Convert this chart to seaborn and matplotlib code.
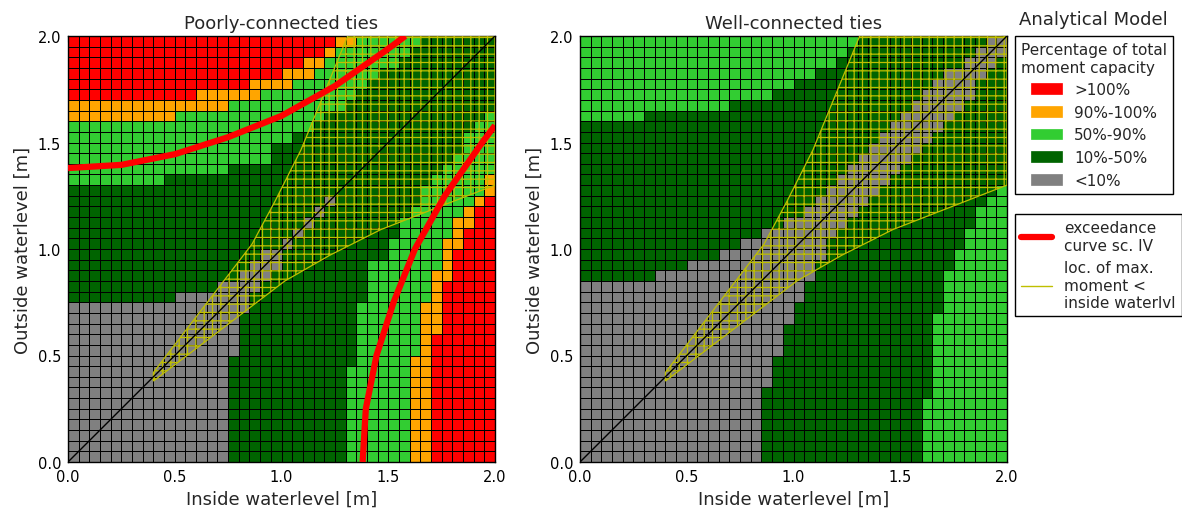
import numpy as np
import matplotlib
matplotlib.use("Agg")
import matplotlib.pyplot as plt
import seaborn as sns
from matplotlib.colors import ListedColormap
from matplotlib.patches import Patch, Polygon
from matplotlib.lines import Line2D
from matplotlib.transforms import Affine2D

# Moment-capacity classes (code -> colour / legend label)
class_codes = {"G": 0, "D": 1, "L": 2, "O": 3, "R": 4}
class_colors = ["grey", "darkgreen", "limegreen", "orange", "red"]
class_labels = ["<10%", "10%-50%", "50%-90%", "90%-100%", ">100%"]

cell = 0.05          # grid step [m]
n_cells = 40         # 0.0 .. 2.0 m

# Run-length rows of the lower triangle (outside >= inside), row j = outside level index.
poorly_rows = [
    "G1", "G2", "G3", "G4", "G5", "G6", "G7", "G8", "G9", "G10",
    "G11", "G12", "G13", "G14", "G15",
    "D10 G6", "D14 G3", "D16 G2", "D17 G2", "D18 G2",
    "D20 G1", "D21 G1", "D22 G1", "D23 G1", "D24 G1",
    "D26",
    "L9 D18", "L15 D13", "L19 D10", "L19 D11", "L21 D10", "L23 D9",
    "O10 L14 D9", "O15 L11 D8",
    "R12 O6 L9 D8", "R17 O4 L7 D8", "R20 O3 L6 D8",
    "R22 O2 L7 D7", "R24 O1 L7 D7", "R25 O2 L6 D7",
]

well_rows = [
    "G1", "G2", "G3", "G4", "G5", "G6", "G7", "G8", "G9", "G10",
    "G11", "G12", "G13", "G14", "G15", "G16", "G17",
    "D7 G11", "D10 G9", "D13 G7", "D15 G6", "D17 G5", "D19 G4", "D21 G3",
    "D22 G3", "D23 G3", "D24 G3", "D25 G3", "D26 G3", "D27 G3", "D28 G3", "D29 G3",
    "L6 D24 G3", "L14 D17 G3", "L18 D14 G3", "L20 D13 G3", "L22 D12 G3",
    "L24 D12 G2", "L25 D12 G2", "L26 D12 G2",
]

# Exceedance curve sc. IV (inside, outside) [m]
exceed_inside = [0.0, 0.25, 0.50, 0.75, 1.00, 1.25, 1.50, 1.58]
exceed_outside = [1.38, 1.395, 1.445, 1.525, 1.625, 1.765, 1.94, 2.0]

# Region where the max. moment lies below the inside water level
region_upper_x = [0.40, 0.862, 0.97, 1.091, 1.31]
region_upper_y = [0.42, 1.023, 1.225, 1.465, 2.0]
region_lower_x = [0.40, 1.016, 1.225, 1.465, 2.0]
region_lower_y = [0.38, 0.85, 0.97, 1.091, 1.30]

tick_values = [0.0, 0.5, 1.0, 1.5, 2.0]
tick_labels = ["0.0", "0.5", "1.0", "1.5", "2.0"]


def build_matrix(rows):
    m = np.zeros((n_cells, n_cells), dtype=int)
    for j, spec in enumerate(rows):
        vals = []
        for run in spec.split():
            vals += [class_codes[run[0]]] * int(run[1:])
        m[j, : j + 1] = vals
    for j in range(n_cells):
        for i in range(j + 1, n_cells):
            m[j, i] = m[i, j]
    return m


sns.set_style("white")
plt.rcParams["font.family"] = ["DejaVu Sans"]
plt.rcParams["hatch.linewidth"] = 0.9

cmap = ListedColormap(class_colors)
fig = plt.figure(figsize=(11.82, 5.10), dpi=100)
W, H = 1182, 510
ax_left = fig.add_axes([68 / W, 1 - 463 / H, 427 / W, 426 / H])
ax_right = fig.add_axes([580 / W, 1 - 463 / H, 427 / W, 426 / H])

panels = [(ax_left, poorly_rows, "Poorly-connected ties", True),
          (ax_right, well_rows, "Well-connected ties", False)]

for ax, rows, title, with_curve in panels:
    mat = build_matrix(rows)
    sns.heatmap(mat, ax=ax, cmap=cmap, vmin=-0.5, vmax=4.5, cbar=False,
                linewidths=0.7, linecolor="black",
                xticklabels=False, yticklabels=False)
    to_m = Affine2D().scale(1 / cell) + ax.transData

    verts = list(zip(region_upper_x, region_upper_y)) + [(2.0, 2.0)] + \
        list(zip(region_lower_x[::-1], region_lower_y[::-1]))
    ax.add_patch(Polygon(verts, closed=True, facecolor="none", edgecolor="y",
                         hatch="++", linewidth=0.9, transform=to_m, zorder=3))
    ax.plot([0, 2], [0, 2], color="black", lw=1.0, transform=to_m, zorder=4)
    if with_curve:
        ax.plot(exceed_inside, exceed_outside, color="red", lw=4.5,
                transform=to_m, zorder=5, solid_capstyle="butt")
        ax.plot(exceed_outside, exceed_inside, color="red", lw=4.5,
                transform=to_m, zorder=5, solid_capstyle="butt")

    ax.set_xlim(0, n_cells)
    ax.set_ylim(0, n_cells)
    ticks = [v / cell for v in tick_values]
    ax.set_xticks(ticks)
    ax.set_xticklabels(tick_labels, fontsize=10.5)
    ax.set_yticks(ticks)
    ax.set_yticklabels(tick_labels, fontsize=10.5, rotation=0)
    ax.tick_params(direction="in", top=True, right=True, length=4,
                   width=0.8, colors="black", pad=5)
    for sp in ax.spines.values():
        sp.set_visible(True)
        sp.set_color("black")
        sp.set_linewidth(1.0)
    ax.set_xlabel("Inside waterlevel [m]", fontsize=13, labelpad=4)
    ax.set_ylabel("Outside waterlevel [m]", fontsize=13, labelpad=4)
    ax.set_title(title, fontsize=13, pad=6)

fig.text(1093 / W, 1 - 20 / H, "Analytical Model", ha="center", va="center",
         fontsize=13)

class_handles = [Patch(facecolor=c, edgecolor=c, linewidth=0.5)
                 for c in class_colors[::-1]]
leg1 = fig.legend(class_handles, class_labels[::-1],
                  title="Percentage of total\nmoment capacity",
                  loc="upper left", bbox_to_anchor=(1015 / W, 1 - 37 / H),
                  fontsize=11, title_fontsize=11, frameon=True, fancybox=False,
                  edgecolor="black", framealpha=1, borderaxespad=0,
                  labelspacing=0.5, borderpad=0.4)
leg1.get_frame().set_linewidth(1.0)

line_handles = [Line2D([], [], color="red", lw=4.5),
                Line2D([], [], color="y", lw=1.0)]
leg2 = fig.legend(line_handles,
                  ["exceedance\ncurve sc. IV", "loc. of max.\nmoment <\ninside waterlvl"],
                  loc="upper left", bbox_to_anchor=(1015 / W, 1 - 215 / H),
                  fontsize=11, frameon=True, fancybox=False, edgecolor="black",
                  framealpha=1, borderaxespad=0, labelspacing=0.5,
                  borderpad=0.4)
leg2.get_frame().set_linewidth(1.0)

fig.savefig("out.png", dpi=100)
